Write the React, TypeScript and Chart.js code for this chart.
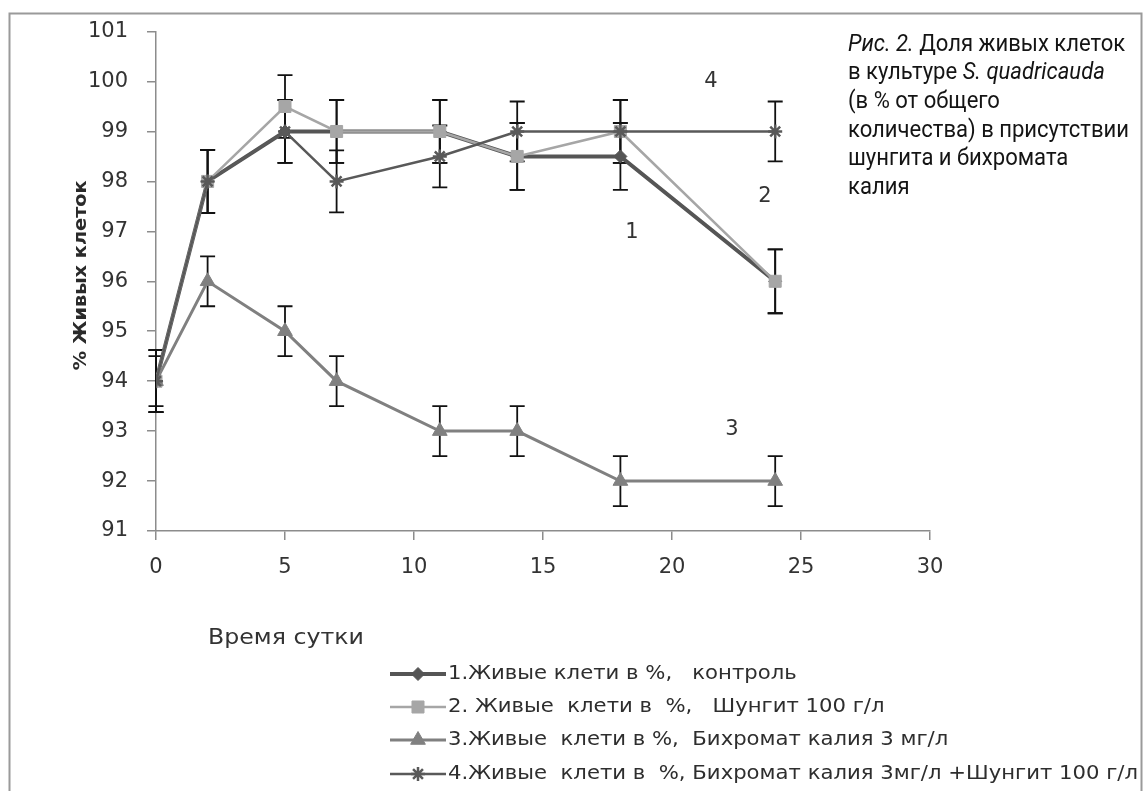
import React, { useEffect, useRef } from 'react';
import { Chart, registerables } from 'chart.js';
import { drawPoint } from 'chart.js/helpers';

Chart.register(...registerables);

// ---- data ----
const times = [0, 2, 5, 7, 11, 14, 18, 24];
const control = [94, 98, 99, 99, 99, 98.5, 98.5, 96];
const shungite = [94, 98, 99.5, 99, 99, 98.5, 99, 96];
const dichromate = [94, 96, 95, 94, 93, 93, 92, 92];
const combined = [94, 98, 99, 98, 98.5, 99, 99, 99];

const controlErr = [0.62, 0.63, 0.63, 0.63, 0.63, 0.67, 0.67, 0.64];
const shungiteErr = [0.62, 0.63, 0.63, 0.63, 0.63, 0.67, 0.63, 0.64];
const dichromateErr = [0.5, 0.5, 0.5, 0.5, 0.5, 0.5, 0.5, 0.5];
const combinedErr = [0.62, 0.63, 0.63, 0.62, 0.62, 0.6, 0.63, 0.6];

const seriesLabels = [
  '1.Живые клети в %,   контроль',
  '2. Живые  клети в  %,   Шунгит 100 г/л',
  '3.Живые  клети в %,  Бихромат калия 3 мг/л',
  '4.Живые  клети в  %, Бихромат калия 3мг/л +Шунгит 100 г/л',
];
const curveNumbers = ['1', '2', '3', '4'];
const yTitle = '% Живых клеток';
const xTitle = 'Время сутки';
const captionLines = [
  [{ t: 'Рис. 2.', i: true }, { t: ' Доля живых клеток', i: false }],
  [{ t: 'в культуре ', i: false }, { t: 'S. quadricauda', i: true }],
  [{ t: '(в % от общего', i: false }],
  [{ t: 'количества) в присутствии', i: false }],
  [{ t: 'шунгита и бихромата', i: false }],
  [{ t: 'калия', i: false }],
];

const W = 1145;
const H = 791;

function fitText(ctx: CanvasRenderingContext2D, text: string, x: number, y: number, width: number, font: string, color: string) {
  ctx.save();
  ctx.font = font;
  const w = ctx.measureText(text).width;
  ctx.translate(x, y);
  ctx.scale(width / w, 1);
  ctx.fillStyle = color;
  ctx.textBaseline = 'middle';
  ctx.textAlign = 'left';
  ctx.fillText(text, 0, 0);
  ctx.restore();
}

const errors = [controlErr, shungiteErr, dichromateErr, combinedErr];

const errorBarPlugin = {
  id: 'errorBars',
  beforeDatasetsDraw(chart: any) {
    const ctx = chart.ctx;
    const xs = chart.scales.x;
    const ys = chart.scales.y;
    ctx.save();
    ctx.strokeStyle = '#111';
    ctx.lineWidth = 1.8;
    chart.data.datasets.forEach((ds: any, di: number) => {
      ds.data.forEach((p: any, i: number) => {
        const e = errors[di][i];
        const px = xs.getPixelForValue(p.x);
        const top = ys.getPixelForValue(p.y + e);
        const bot = ys.getPixelForValue(p.y - e);
        ctx.beginPath();
        ctx.moveTo(px, top);
        ctx.lineTo(px, bot);
        ctx.moveTo(px - 7.5, top);
        ctx.lineTo(px + 7.5, top);
        ctx.moveTo(px - 7.5, bot);
        ctx.lineTo(px + 7.5, bot);
        ctx.stroke();
      });
    });
    ctx.restore();
  },
};

const decorPlugin = {
  id: 'decor',
  afterDraw(chart: any) {
    const ctx: CanvasRenderingContext2D = chart.ctx;
    const ys = chart.scales.y;
    ctx.save();
    // frame
    ctx.strokeStyle = '#9a9a9a';
    ctx.lineWidth = 2;
    ctx.strokeRect(9.5, 13.5, 1132, 820);

    // y title
    ctx.save();
    ctx.translate(82, (ys.top + ys.bottom) / 2 - 6);
    ctx.rotate(-Math.PI / 2);
    ctx.font = 'bold 17px "DejaVu Sans"';
    const tw = ctx.measureText(yTitle).width;
    ctx.scale(190 / tw, 1);
    ctx.fillStyle = '#2a2a2a';
    ctx.textAlign = 'center';
    ctx.textBaseline = 'middle';
    ctx.fillText(yTitle, 0, 0);
    ctx.restore();

    // x title
    fitText(ctx, xTitle, 208, 638, 156, '22px "DejaVu Sans"', '#333');

    // curve numbers
    ctx.font = '21px "DejaVu Sans"';
    ctx.fillStyle = '#333';
    ctx.textAlign = 'center';
    ctx.textBaseline = 'middle';
    const numPos = [
      [632, 233],
      [765, 197],
      [732, 430],
      [711, 82],
    ];
    curveNumbers.forEach((n, i) => ctx.fillText(n, numPos[i][0], numPos[i][1]));

    // legend
    const legFont = '19px "DejaVu Sans"';
    ctx.font = legFont;
    const legScale = 690 / ctx.measureText(seriesLabels[3]).width;
    const rows = [674, 707, 740, 774];
    chart.data.datasets.forEach((ds: any, i: number) => {
      const y = rows[i];
      ctx.save();
      ctx.strokeStyle = ds.borderColor;
      ctx.lineWidth = ds.borderWidth;
      ctx.beginPath();
      ctx.moveTo(390, y);
      ctx.lineTo(446, y);
      ctx.stroke();
      ctx.fillStyle = ds.pointBackgroundColor;
      ctx.strokeStyle = ds.pointBorderColor;
      ctx.lineWidth = ds.pointBorderWidth;
      drawPoint(ctx, { pointStyle: ds.pointStyle, rotation: 0, radius: ds.pointRadius, borderWidth: ds.pointBorderWidth }, 418, y);
      ctx.restore();
      ctx.save();
      ctx.font = legFont;
      ctx.translate(448, y);
      ctx.scale(legScale, 1);
      ctx.fillStyle = '#2e2e2e';
      ctx.textAlign = 'left';
      ctx.textBaseline = 'middle';
      ctx.fillText(seriesLabels[i], 0, 0);
      ctx.restore();
    });

    // caption
    const capSize = 23;
    const fontN = `${capSize}px "Roboto", "Liberation Sans"`;
    const fontI = `italic ${capSize}px "Roboto", "Liberation Sans"`;
    const measureLine = (line: any[]) =>
      line.reduce((s, seg) => {
        ctx.font = seg.i ? fontI : fontN;
        return s + ctx.measureText(seg.t).width;
      }, 0);
    const capScale = 281 / measureLine(captionLines[3]);
    captionLines.forEach((line, li) => {
      ctx.save();
      ctx.translate(848, 45 + li * 28.6);
      ctx.scale(capScale, 1);
      ctx.fillStyle = '#141414';
      ctx.textAlign = 'left';
      ctx.textBaseline = 'middle';
      let cx = 0;
      line.forEach((seg: any) => {
        ctx.font = seg.i ? fontI : fontN;
        ctx.fillText(seg.t, cx, 0);
        cx += ctx.measureText(seg.t).width;
      });
      ctx.restore();
    });
    ctx.restore();
  },
};

export default function App() {
  const ref = useRef<HTMLCanvasElement | null>(null);
  useEffect(() => {
    if (!ref.current) return;
    const mk = (ys: number[]) => ys.map((y, i) => ({ x: times[i], y }));
    const tickFont = { family: 'DejaVu Sans', size: 21 };
    const chart = new Chart(ref.current, {
      type: 'line',
      data: {
        datasets: [
          {
            label: seriesLabels[0],
            data: mk(control),
            borderColor: '#555555',
            borderWidth: 4,
            pointStyle: 'rectRot',
            pointRadius: 6.5,
            pointBackgroundColor: '#555555',
            pointBorderColor: '#555555',
            pointBorderWidth: 1,
            order: 4,
          },
          {
            label: seriesLabels[1],
            data: mk(shungite),
            borderColor: '#a6a6a6',
            borderWidth: 2.5,
            pointStyle: 'rect',
            pointRadius: 8.5,
            pointBackgroundColor: '#a6a6a6',
            pointBorderColor: '#a6a6a6',
            pointBorderWidth: 1,
            order: 3,
          },
          {
            label: seriesLabels[2],
            data: mk(dichromate),
            borderColor: '#808080',
            borderWidth: 3,
            pointStyle: 'triangle',
            pointRadius: 8.5,
            pointBackgroundColor: '#808080',
            pointBorderColor: '#808080',
            pointBorderWidth: 1,
            order: 2,
          },
          {
            label: seriesLabels[3],
            data: mk(combined),
            borderColor: '#595959',
            borderWidth: 2.5,
            pointStyle: 'star',
            pointRadius: 7,
            pointBackgroundColor: '#595959',
            pointBorderColor: '#595959',
            pointBorderWidth: 2.5,
            order: 1,
          },
        ],
      },
      options: {
        animation: false,
        responsive: false,
        layout: { padding: { left: 0, top: 29, right: 215, bottom: 200 } },
        plugins: { legend: { display: false }, tooltip: { enabled: false } },
        scales: {
          x: {
            type: 'linear',
            min: 0,
            max: 30,
            afterFit: (s: any) => {
              s.height = 60;
            },
            ticks: { stepSize: 5, color: '#333', font: tickFont, padding: 15 },
            grid: { drawOnChartArea: false, drawTicks: true, tickLength: 9, color: '#8c8c8c', lineWidth: 1.5 },
            border: { color: '#8c8c8c', width: 1.5 },
          },
          y: {
            type: 'linear',
            min: 91,
            max: 101,
            afterFit: (s: any) => {
              s.width = 156;
            },
            ticks: { stepSize: 1, color: '#333', font: tickFont, padding: 19 },
            grid: { drawOnChartArea: false, drawTicks: true, tickLength: 9, color: '#8c8c8c', lineWidth: 1.5 },
            border: { color: '#8c8c8c', width: 1.5 },
          },
        },
      },
      plugins: [errorBarPlugin, decorPlugin],
    } as any);
    return () => chart.destroy();
  }, []);
  return (
    <div style={{ position: 'fixed', left: 0, top: 0, width: W, height: H, background: '#fff' }}>
      <canvas ref={ref} width={W} height={H} style={{ width: W, height: H, display: 'block' }} />
    </div>
  );
}
